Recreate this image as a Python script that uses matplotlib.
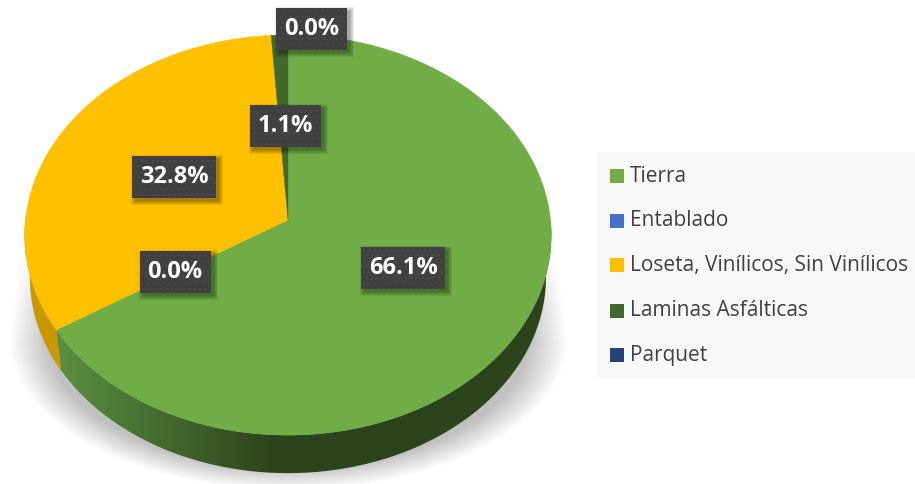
import numpy as np
import matplotlib
matplotlib.use('Agg')
import matplotlib.pyplot as plt
from matplotlib.patches import Polygon, Rectangle

categories = ['Tierra', 'Entablado', 'Loseta, Vinílicos, Sin Vinílicos',
              'Laminas Asfálticas', 'Parquet']
values = [66.1, 0.0, 32.8, 1.1, 0.0]
colors = ['#70AD47', '#4472C4', '#FFC000', '#43682B', '#264478']

# label box centres in pixels, same order as values
label_pos = [(403, 268), (175, 272), (174, 177), (285.5, 126), (311.5, 29)]
legend_y = [176, 221, 265, 311, 355]

# pie geometry in pixels (perspective view of a tilted disc)
cx, cy = 288, 220
rx, ry = 262.5, 199
persp = 0.075
ell_cy = 235
depth = 42
bottom_scale = 0.98

plt.rcParams['hatch.linewidth'] = 0.6


def project(theta):
    u = np.sin(theta)
    v = np.cos(theta)
    w = 1 + persp * v
    return cx + rx * u / w, cy - ry * v / w


def lower(x, y):
    return cx + (x - cx) * bottom_scale, ell_cy + (y - ell_cy) * bottom_scale + depth


fig = plt.figure(figsize=(9.15, 4.84), dpi=100)
ax = fig.add_axes([0, 0, 1, 1])
ax.set_xlim(0, 915)
ax.set_ylim(484, 0)
ax.axis('off')

# soft shadow under the pie: straight flanks above y=340, rounded below
yy, xx = np.mgrid[0:484, 0:915]
half_w = 263 + 17 * (yy - 210) / 130
r_top = np.abs(xx - 288) / half_w
r_low = np.sqrt(((xx - 288) / 280) ** 2 + ((yy - 340) / 150) ** 2)
r = np.where(yy < 340, r_top, r_low)
alpha = 0.25 * np.clip((1 - r) / 0.15, 0, 1) * np.clip((yy - 205) / 100, 0, 1)
shadow = np.zeros((484, 915, 4))
shadow[..., 3] = alpha
ax.imshow(shadow, extent=(0, 915, 484, 0), zorder=1, aspect='auto')

edges = np.cumsum([0] + values) / sum(values) * 2 * np.pi

# green gradient used for the rim of the first slice
t = np.clip((np.arange(915) - 60) / 210, 0, 1)[None, :, None]
rim_start = np.array([0.35, 0.56, 0.25])
rim_end = np.array([0.176, 0.27, 0.11])
rim_img = rim_start + (rim_end - rim_start) * t

# rim of the disc, only the lower half can be seen
for i in range(len(values)):
    a0 = max(edges[i], np.pi / 2)
    a1 = min(edges[i + 1], 3 * np.pi / 2)
    if a1 <= a0:
        continue
    theta = np.linspace(a0, a1, 200)
    px, py = project(theta)
    bx, by = lower(px, py)
    pts = list(zip(px, py)) + list(zip(bx[::-1], by[::-1]))
    if i == 0:
        poly = Polygon(pts, facecolor='none', edgecolor='none', zorder=2)
        ax.add_patch(poly)
        im = ax.imshow(rim_img, extent=(0, 915, 484, 0), zorder=2, aspect='auto')
        im.set_clip_path(poly)
    else:
        c = tuple(np.array(matplotlib.colors.to_rgb(colors[i])) * 0.79)
        ax.add_patch(Polygon(pts, facecolor=c, edgecolor=c, lw=0.3, zorder=2))

# top face
for i in range(len(values)):
    if values[i] == 0:
        continue
    theta = np.linspace(edges[i], edges[i + 1], 200)
    px, py = project(theta)
    pts = [(cx, cy)] + list(zip(px, py))
    ax.add_patch(Polygon(pts, facecolor=colors[i], edgecolor=colors[i], lw=0.3, zorder=3))

# data labels
for v, (lx, ly) in zip(values, label_pos):
    w = 84 if v >= 10 else 71
    for k in range(5):
        ax.add_patch(Rectangle((lx - w / 2 + 3 - k, ly - 21 + 3 - k), w + 2 * k, 42 + 2 * k,
                               facecolor='black', edgecolor='none', alpha=0.08, zorder=4))
    ax.add_patch(Rectangle((lx - w / 2, ly - 21), w, 42, facecolor='#404040', edgecolor='#4C4C4C',
                           hatch='...', lw=0, zorder=5))
    ax.text(lx, ly, f'{v:.1f}%', color='white', fontsize=17, fontweight='bold',
            family='Open Sans', ha='center', va='center', zorder=6)

# legend
ax.add_patch(Rectangle((597, 152), 318, 226, facecolor='#F8F8F8', edgecolor='none', zorder=1))
for name, c, y in zip(categories, colors, legend_y):
    ax.add_patch(Rectangle((610, y - 7), 14, 14, facecolor=c, edgecolor='none', zorder=2))
    ax.text(630, y, name, color='#404040', fontsize=15, family='Open Sans',
            ha='left', va='center', zorder=2)

fig.savefig('out.png', dpi=100)
